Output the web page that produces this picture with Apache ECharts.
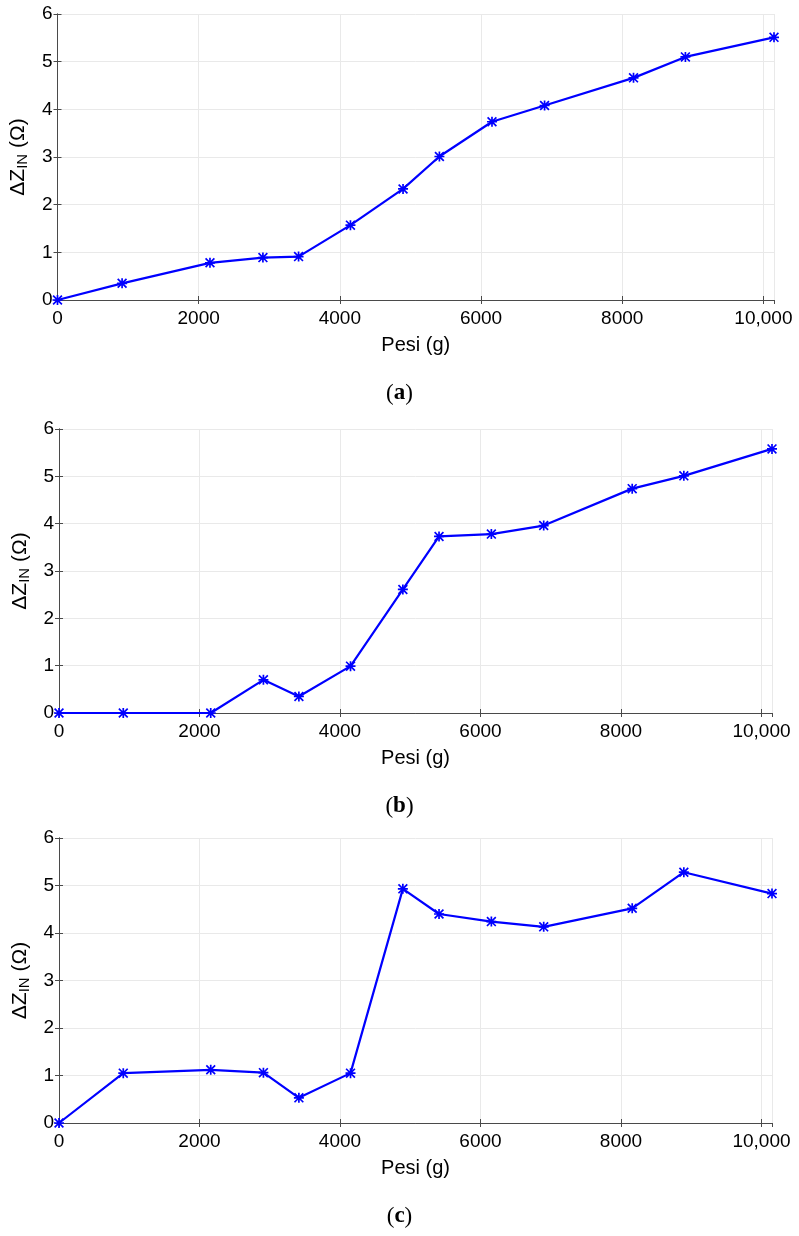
<!DOCTYPE html>
<html>
<head>
<meta charset="utf-8">
<script src="https://cdn.jsdelivr.net/npm/echarts@6/dist/echarts.min.js"></script>
<style>
  html, body { margin: 0; padding: 0; background: #fff; }
  #chart { width: 799px; height: 1236px; }
</style>
</head>
<body>
<div id="chart"></div>
<script>
// pesi (g) - same for all three panels
const pesi = [0, 915, 2160, 2910, 3415, 4150, 4895, 5410, 6155, 6900, 8160, 8895, 10150];
// delta Z_IN (ohm) per panel
const zA = [0, 0.35, 0.78, 0.89, 0.91, 1.57, 2.33, 3.01, 3.74, 4.08, 4.66, 5.10, 5.51];
const zB = [0, 0, 0, 0.70, 0.35, 0.99, 2.61, 3.73, 3.78, 3.96, 4.74, 5.01, 5.58];
const zC = [0, 1.05, 1.12, 1.06, 0.53, 1.05, 4.93, 4.40, 4.24, 4.13, 4.52, 5.28, 4.83];
const xTickLabels = ['0', '2000', '4000', '6000', '8000', '10,000'];
const captions = ['a', 'b', 'c'];

const font = 'Liberation Sans, Arial, sans-serif';
const axisColor = '#4a4a4a';
const gridColor = '#e9e9e9';
// asterisk marker (matlab '*')
const star = 'path://M0 8.3L20 8.3L20 11.7L0 11.7Z M8.3 0L11.7 0L11.7 20L8.3 20Z ' +
  'M2.4 0L20 17.6L17.6 20L0 2.4Z M17.6 0L20 2.4L2.4 20L0 17.6Z';

const grids = [
  { left: 57, top: 14, right: 25, height: 286 },
  { left: 59, top: 429, right: 27, height: 284 },
  { left: 59, top: 838, right: 27, height: 285 }
];
const series = [zA, zB, zC];

const xAxis = [], yAxis = [], ser = [], title = [];
grids.forEach((g, i) => {
  // bottom axis
  xAxis.push({
    type: 'value', gridIndex: i, min: 0, max: 10150, interval: 2000,
    name: 'Pesi (g)', nameLocation: 'middle', nameGap: 35,
    nameTextStyle: { fontFamily: font, fontSize: 20, color: '#000' },
    axisLine: { show: true, lineStyle: { color: axisColor, width: 1 } },
    axisTick: { show: true, inside: true, length: 4, lineStyle: { color: axisColor } },
    axisLabel: {
      fontFamily: font, fontSize: 19, color: '#000', margin: 9, showMaxLabel: false,
      formatter: v => xTickLabels[Math.round(v / 2000)] || ''
    },
    splitLine: { show: true, lineStyle: { color: gridColor, width: 1 } }
  });
  // top border axis
  xAxis.push({
    type: 'value', gridIndex: i, position: 'top', min: 0, max: 10150, interval: 2000,
    axisLine: { show: true, lineStyle: { color: axisColor, width: 1 } },
    axisTick: { show: true, inside: true, length: 4, lineStyle: { color: axisColor } },
    axisLabel: { show: false }, splitLine: { show: false }
  });
  // left axis
  yAxis.push({
    type: 'value', gridIndex: i, min: 0, max: 6, interval: 1,
    name: '{m|ΔZ}{s|IN}{m| (Ω)}', nameLocation: 'middle', nameGap: 27,
    nameTextStyle: {
      fontFamily: font, color: '#000',
      rich: {
        m: { fontFamily: font, fontSize: 21, color: '#000' },
        s: { fontFamily: font, fontSize: 15, color: '#000', padding: [9, 0, 0, 0] }
      }
    },
    axisLine: { show: true, lineStyle: { color: axisColor, width: 1 } },
    axisTick: { show: true, inside: true, length: 4, lineStyle: { color: axisColor } },
    axisLabel: { fontFamily: font, fontSize: 19, color: '#000', margin: 5 },
    splitLine: { show: true, lineStyle: { color: gridColor, width: 1 } }
  });
  // right border axis
  yAxis.push({
    type: 'value', gridIndex: i, position: 'right', min: 0, max: 6, interval: 1,
    axisLine: { show: true, lineStyle: { color: axisColor, width: 1 } },
    axisTick: { show: true, inside: true, length: 4, lineStyle: { color: axisColor } },
    axisLabel: { show: false }, splitLine: { show: false }
  });
  ser.push({
    type: 'line', xAxisIndex: i * 2, yAxisIndex: i * 2,
    data: pesi.map((p, k) => [p, series[i][k]]),
    symbol: star, symbolSize: 10, clip: false,
    lineStyle: { color: '#0000ff', width: 2.2 },
    itemStyle: { color: '#0000ff' },
    z: 5
  });
  const bottom = g.top + g.height;
  title.push({
    text: '({b|' + captions[i] + '})',
    left: 'center', top: bottom + 77,
    textStyle: {
      fontFamily: 'Liberation Serif, serif', fontSize: 23, fontWeight: 'normal', color: '#000',
      rich: { b: { fontFamily: 'Liberation Serif, serif', fontSize: 23, fontWeight: 'bold', color: '#000' } }
    }
  });
});

const chart = echarts.init(document.getElementById('chart'));
chart.setOption({
  animation: false,
  backgroundColor: '#fff',
  title: title,
  grid: grids,
  xAxis: xAxis,
  yAxis: yAxis,
  series: ser
});
</script>
</body>
</html>
